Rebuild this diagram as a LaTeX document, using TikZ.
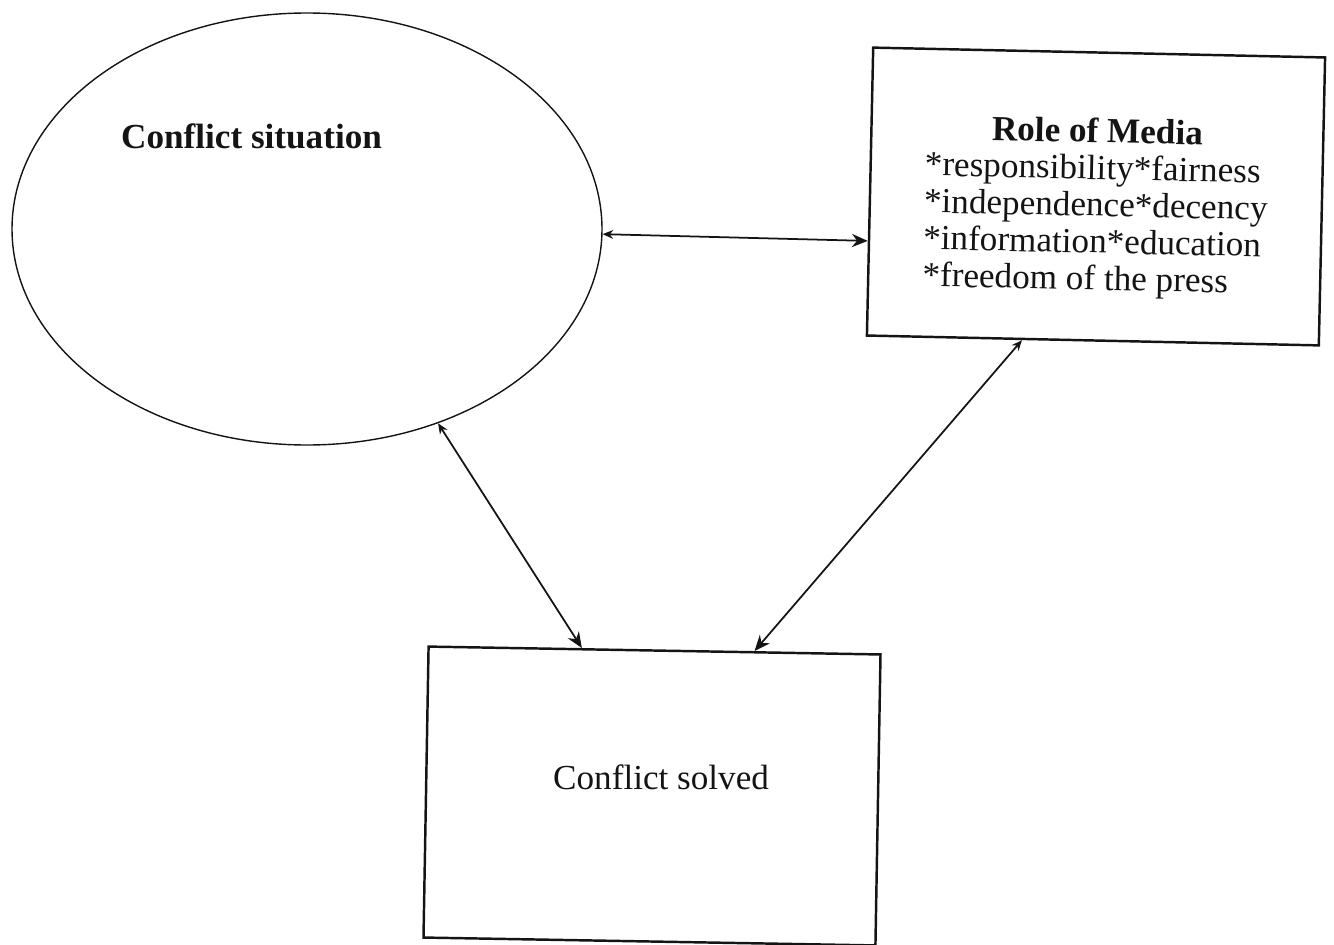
\documentclass[tikz,border=0pt]{standalone}
\usepackage{fontspec}
\setmainfont{Liberation Serif}
\usepackage{xcolor}
\usepackage{tikz}
\usetikzlibrary{calc,arrows.meta,positioning,shapes.geometric}
\definecolor{scanInk}{RGB}{20,20,20}

\begin{document}
\begin{tikzpicture}[
  every node/.style={font=\fontsize{20}{21}\selectfont, text=scanInk},
  situation/.style={draw=scanInk, ellipse, line width=0.8pt, minimum width=11.8cm, minimum height=8.64cm, inner sep=0pt},
  framebox/.style={draw=scanInk, rectangle, line width=1.4pt, minimum width=9.04cm, minimum height=5.76cm, inner sep=0pt},
  link/.style={scanInk, line width=1pt, {Stealth[length=6pt,width=5pt]}-{Stealth[length=9pt,width=7.5pt]}}
]
\useasboundingbox (0,0) rectangle (26.68,-18.88);
\node[situation] (situation) at (6.14,-4.58) {};
\node[anchor=base west, font=\bfseries\fontsize{20}{21}\selectfont] (situationtext) at (2.3,-2.96) {Conflict situation};
\node[framebox, rotate=-1.25] (media) at (21.92,-3.93) {\raisebox{-7pt}[\height][\depth]{\begin{tabular}{@{}l@{}}
\multicolumn{1}{c}{\textbf{Role of Media}}\\
{}*responsibility*fairness\\
{}*independence*decency\\
{}*information*education\\
{}*freedom of the press
\end{tabular}}};
\node[framebox, minimum height=5.82cm, rotate=-1] (solved) at (13.04,-15.92) {};
\node[anchor=base west] (solvedtext) at (10.94,-15.78) {Conflict solved};
\draw[link] (situation.-1) -- ($(media.north west)!0.67!(media.south west)$);
\draw[link] (situation.-56) -- ($(solved.north west)!0.34!(solved.north east)$);
\draw[link] ($(media.south west)!0.344!(media.south east)$) -- ($(solved.north west)!0.72!(solved.north east)$);
\end{tikzpicture}
\end{document}
